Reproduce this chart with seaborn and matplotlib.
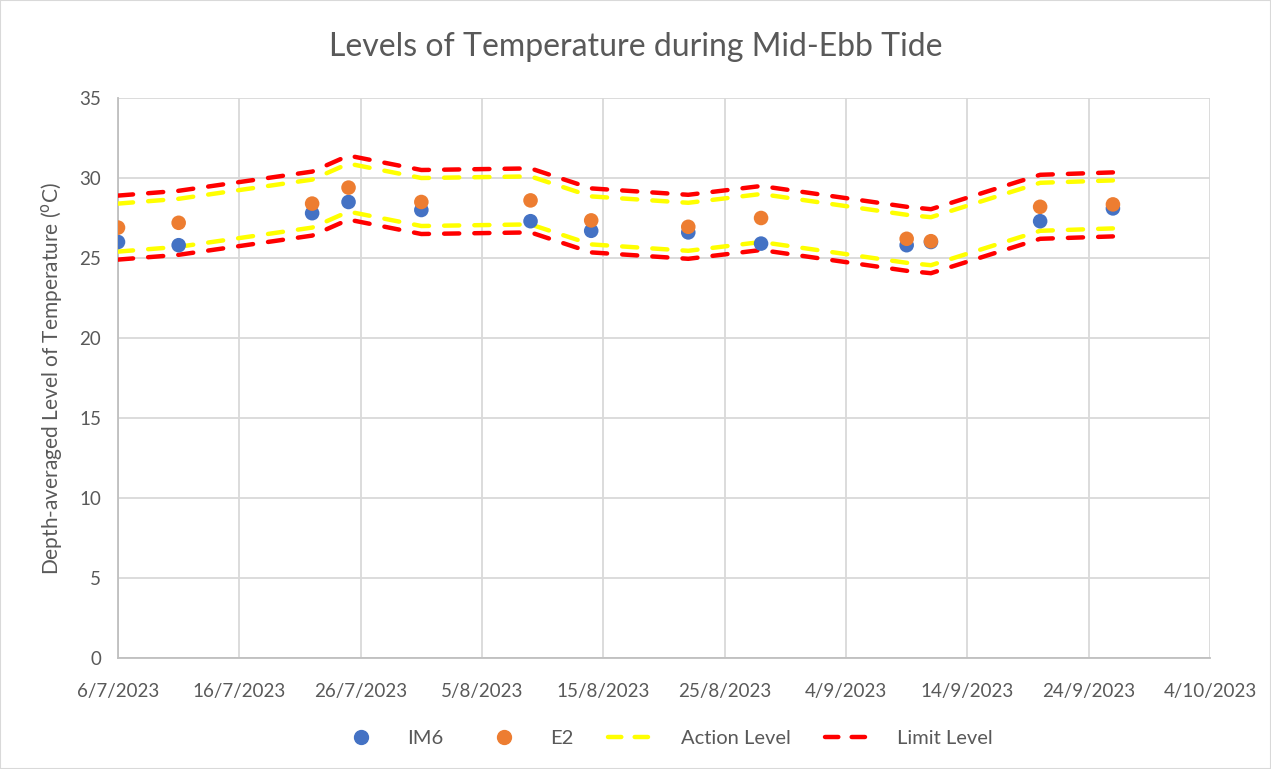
import numpy as np
import pandas as pd
import matplotlib
matplotlib.use("Agg")
import matplotlib.pyplot as plt
import matplotlib.dates as mdates
from matplotlib.lines import Line2D
from matplotlib.patches import Rectangle
import seaborn as sns

# sampling dates and depth-averaged temperatures
dates = ["2023-07-06", "2023-07-11", "2023-07-22", "2023-07-25", "2023-07-31",
         "2023-08-09", "2023-08-14", "2023-08-22", "2023-08-28", "2023-09-09",
         "2023-09-11", "2023-09-20", "2023-09-26"]
im6 = [26.0, 25.8, 27.8, 28.5, 28.0, 27.3, 26.7, 26.6, 25.9, 25.8, 26.0, 27.3, 28.1]
e2 = [26.9, 27.2, 28.4, 29.4, 28.5, 28.6, 27.35, 26.95, 27.5, 26.2, 26.05, 28.2, 28.35]

action_upper = [28.4, 28.7, 29.9, 30.9, 30.0, 30.1, 28.85, 28.45, 29.0, 27.7, 27.55, 29.7, 29.85]
action_lower = [25.4, 25.7, 26.9, 27.9, 27.0, 27.1, 25.85, 25.45, 26.0, 24.7, 24.55, 26.7, 26.85]
limit_upper = [28.9, 29.2, 30.4, 31.4, 30.5, 30.6, 29.35, 28.95, 29.5, 28.2, 28.05, 30.2, 30.35]
limit_lower = [24.9, 25.2, 26.4, 27.4, 26.5, 26.6, 25.35, 24.95, 25.5, 24.2, 24.05, 26.2, 26.35]

x_ticks = pd.date_range("2023-07-06", "2023-10-04", freq="10D")

# colours
BLUE = "#4472C4"
ORANGE = "#ED7D31"
YELLOW = "#FFFF00"
RED = "#FF0000"
TEXT = "#595959"
GRID = "#D9D9D9"

sns.set_style("white")
plt.rcParams["font.family"] = ["Lato", "DejaVu Sans"]

df = pd.DataFrame({
    "date": pd.to_datetime(dates),
    "IM6": im6,
    "E2": e2,
    "action_upper": action_upper,
    "action_lower": action_lower,
    "limit_upper": limit_upper,
    "limit_lower": limit_lower,
})

fig = plt.figure(figsize=(12.71, 7.69), dpi=100)
ax = fig.add_axes([118 / 1271, 1 - 658 / 769, (1210 - 118) / 1271, (658 - 98) / 769])

# action / limit bands
line_kw = dict(linewidth=3.2, dashes=(3.4, 3.4), estimator=None, legend=False)
for col, colour in [("action_upper", YELLOW), ("action_lower", YELLOW),
                    ("limit_upper", RED), ("limit_lower", RED)]:
    sns.lineplot(data=df, x="date", y=col, color=colour, ax=ax, **line_kw)
for ln in ax.get_lines():
    ln.set_dash_capstyle("round")
    ln.set_zorder(3)

# monitoring stations
sns.scatterplot(data=df, x="date", y="IM6", color=BLUE, s=110, edgecolor="none",
                ax=ax, zorder=4, legend=False)
sns.scatterplot(data=df, x="date", y="E2", color=ORANGE, s=110, edgecolor="none",
                ax=ax, zorder=5, legend=False)

ax.set_xlim(x_ticks[0], x_ticks[-1])
ax.set_ylim(0, 35)
ax.set_yticks(range(0, 36, 5))
ax.set_xticks(x_ticks)
ax.xaxis.set_major_formatter(plt.FuncFormatter(
    lambda v, pos: "{0.day}/{0.month}/{0.year}".format(mdates.num2date(v))))

ax.grid(True, color=GRID, linewidth=1.3)
ax.set_axisbelow(True)
for side in ["top", "right"]:
    ax.spines[side].set_visible(False)
for side in ["left", "bottom"]:
    ax.spines[side].set_color("#BFBFBF")
    ax.spines[side].set_linewidth(1.3)
ax.tick_params(axis="both", length=0, labelsize=13.5, colors=TEXT)
ax.tick_params(axis="x", pad=18)
ax.tick_params(axis="y", pad=12)

ax.set_xlabel("")
ax.set_ylabel("Depth-averaged Level of Temperature ($^{\\rm o}$C)", fontsize=15,
              color=TEXT, labelpad=10)
fig.text(0.5, 1 - 47 / 769, "Levels of Temperature during Mid-Ebb Tide",
         ha="center", va="center", fontsize=23, color=TEXT)

handles = [
    Line2D([], [], marker="o", linestyle="none", markersize=10, color=BLUE),
    Line2D([], [], marker="o", linestyle="none", markersize=10, color=ORANGE),
    Line2D([], [], color=YELLOW, linewidth=3.2, dashes=(3.0, 3.0), dash_capstyle="round"),
    Line2D([], [], color=RED, linewidth=3.2, dashes=(3.0, 3.0), dash_capstyle="round"),
]
labels = ["IM6", "E2", "Action Level", "Limit Level"]
leg = fig.legend(handles, labels, loc="center", bbox_to_anchor=(664 / 1271, 1 - 738 / 769),
                 ncol=4, frameon=False, fontsize=14.5, handlelength=2.6,
                 columnspacing=1.7, handletextpad=1.0)
for t in leg.get_texts():
    t.set_color(TEXT)

# chart border
fig.patches.append(Rectangle((0, 0), 1, 1, transform=fig.transFigure, fill=False,
                             edgecolor="#D9D9D9", linewidth=1.5))

fig.savefig("out.png", dpi=100)
